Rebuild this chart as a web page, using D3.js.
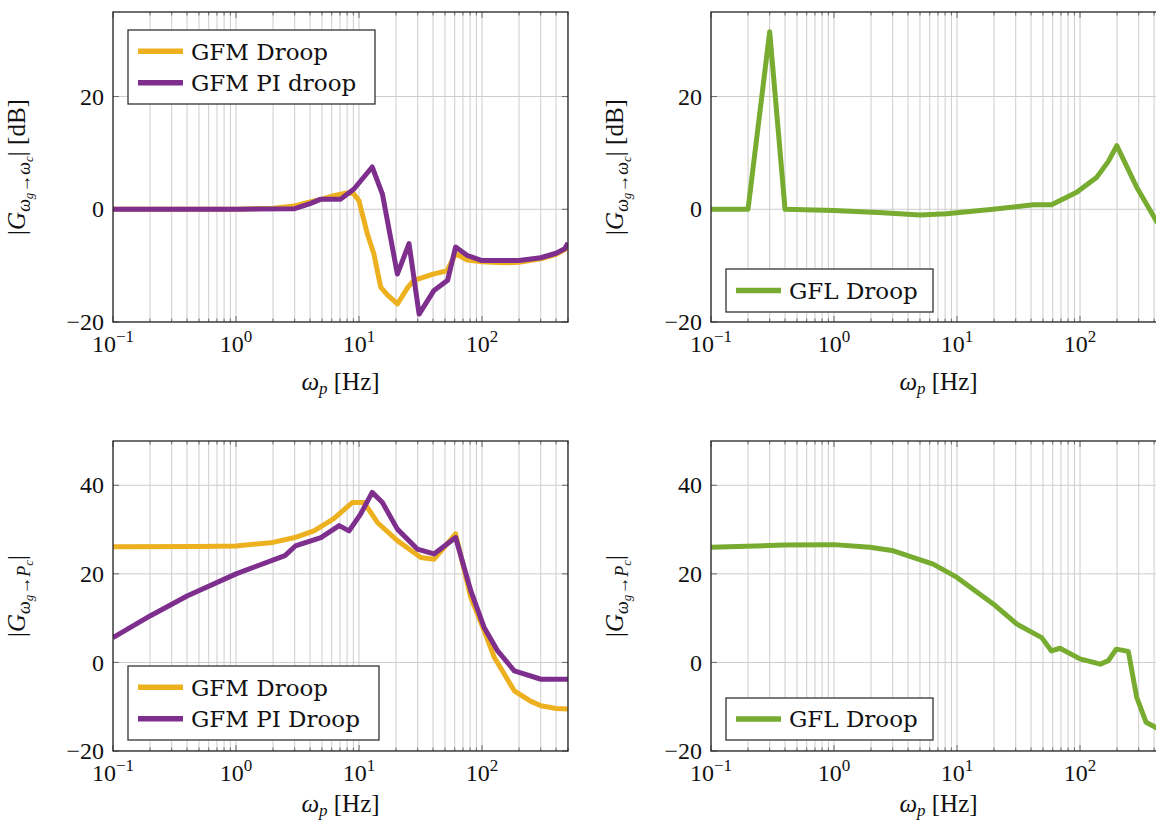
<!DOCTYPE html>
<html>
<head>
<meta charset="utf-8">
<script src="https://cdn.jsdelivr.net/npm/d3@7/dist/d3.min.js"></script>
<style>
  html, body { margin: 0; padding: 0; background: #fff; }
  svg { display: block; }
</style>
</head>
<body>
<svg id="chart" width="1156" height="823"></svg>
<script>
// ---------------- DATA ----------------
const xTickExponents = [-1, 0, 1, 2];
const yTicksTop = [-20, 0, 20];
const yTicksBottom = [-20, 0, 20, 40];

// Top-left: |G wg->wc| [dB]
const tlDroopFreq = [0.1, 1, 2, 3, 4, 5, 6.2, 8, 9, 10, 11.7, 13.2, 15, 17, 20.5, 25, 28, 40, 52, 61, 76, 100, 150, 200, 300, 400, 500];
const tlDroopMag  = [0, 0, 0.2, 0.6, 1.3, 1.8, 2.4, 2.9, 2.8, 1.5, -4.4, -7.9, -13.8, -15.2, -16.8, -13.8, -12.6, -11.5, -10.9, -7.9, -9.0, -9.3, -9.5, -9.4, -8.8, -8.0, -6.8];
const tlPIFreq = [0.1, 1, 3, 4, 4.9, 7.1, 9.1, 12.8, 15.5, 20.5, 25.5, 30.8, 40.7, 52.5, 61, 76, 100, 200, 300, 400, 470, 500];
const tlPIMag  = [0, 0, 0.1, 1.0, 1.8, 1.8, 3.6, 7.5, 2.7, -11.5, -6.1, -18.6, -14.4, -12.6, -6.7, -8.2, -9.1, -9.1, -8.6, -7.8, -7.0, -6.0];

// Top-right: GFL droop
const trGFLFreq = [0.1, 0.2, 0.3, 0.4, 1, 2.5, 5, 8.2, 19.7, 41.7, 58.6, 94, 137, 170, 199, 289, 415, 500];
const trGFLMag  = [0, 0, 31.5, 0, -0.2, -0.6, -1.0, -0.8, 0, 0.8, 0.8, 3.0, 5.7, 8.5, 11.3, 3.9, -2.0, -4.5];

// Bottom-left: |G wg->Pc|
const blDroopFreq = [0.1, 0.5, 1, 2, 3, 4.3, 6.2, 8.8, 11, 14.1, 20.5, 31.8, 40.7, 61, 81, 104, 126, 183, 250, 302, 400, 500];
const blDroopMag  = [26.1, 26.2, 26.3, 27.1, 28.2, 29.7, 32.4, 36.1, 36.1, 31.6, 27.5, 23.7, 23.3, 29.0, 14.7, 7.2, 1.1, -6.4, -8.8, -9.8, -10.4, -10.5];
const blPIFreq = [0.1, 0.2, 0.4, 1, 2.5, 3.04, 4.9, 6.9, 8.3, 10.3, 12.8, 15.5, 20.5, 29.8, 40.7, 61, 81, 104, 134, 183, 302, 500];
const blPIMag  = [5.6, 10.5, 15, 20, 24.1, 26.3, 28.2, 30.9, 29.7, 33.5, 38.4, 36.1, 30.1, 25.6, 24.5, 28.2, 16.2, 7.9, 2.6, -1.9, -3.8, -3.8];

// Bottom-right: GFL droop
const brGFLFreq = [0.1, 0.39, 1, 1.96, 3.04, 6.4, 10, 19.7, 30.5, 48.8, 58.6, 68.7, 100, 146, 170, 197, 247, 289, 344, 415, 500];
const brGFLMag  = [26.0, 26.5, 26.6, 26.0, 25.2, 22.2, 19.2, 13.2, 8.7, 5.6, 2.6, 3.2, 0.8, -0.4, 0.4, 3.0, 2.5, -7.9, -13.5, -14.7, -15.5];

const colDroop = "#EDB120", colPI = "#7E2F8E", colGFL = "#77AC30";

// ---------------- DRAW ----------------
const svg = d3.select("#chart");
const numFont = "Liberation Serif, serif";
const txtFont = "DejaVu Serif, serif";

const panels = [
  { id: "tl", x: 113, y: 12, w: 455, h: 310, yDom: [-20, 35], yTicks: yTicksTop, ylab: "wc", xlabOff: 68,
    series: [{f: tlDroopFreq, m: tlDroopMag, c: colDroop, name: "GFM Droop"}, {f: tlPIFreq, m: tlPIMag, c: colPI, name: "GFM PI droop"}],
    legend: {x: 128, y: 30, w: 247, h: 74} },
  { id: "tr", x: 711, y: 12, w: 455, h: 310, yDom: [-20, 35], yTicks: yTicksTop, ylab: "wc", xlabOff: 68,
    series: [{f: trGFLFreq, m: trGFLMag, c: colGFL, name: "GFL Droop"}],
    legend: {x: 726, y: 269, w: 207, h: 43} },
  { id: "bl", x: 113, y: 441, w: 455, h: 310, yDom: [-20, 50], yTicks: yTicksBottom, ylab: "Pc", xlabOff: 61,
    series: [{f: blDroopFreq, m: blDroopMag, c: colDroop, name: "GFM Droop"}, {f: blPIFreq, m: blPIMag, c: colPI, name: "GFM PI Droop"}],
    legend: {x: 128, y: 666, w: 251, h: 74} },
  { id: "br", x: 711, y: 441, w: 455, h: 310, yDom: [-20, 50], yTicks: yTicksBottom, ylab: "Pc", xlabOff: 61,
    series: [{f: brGFLFreq, m: brGFLMag, c: colGFL, name: "GFL Droop"}],
    legend: {x: 726, y: 698, w: 207, h: 42} }
];

const defs = svg.append("defs");

panels.forEach(p => {
  const x = d3.scaleLog().domain([0.1, 500]).range([p.x, p.x + p.w]);
  const y = d3.scaleLinear().domain(p.yDom).range([p.y + p.h, p.y]);
  const g = svg.append("g");

  defs.append("clipPath").attr("id", "clip-" + p.id)
    .append("rect").attr("x", p.x).attr("y", p.y).attr("width", p.w).attr("height", p.h);

  const xMajor = xTickExponents.map(e => Math.pow(10, e));
  const xMinor = [];
  for (let e = -1; e <= 2; e++) for (let k = 2; k <= 9; k++) { const v = k * Math.pow(10, e); if (v <= 500) xMinor.push(v); }

  // grid
  const grid = g.append("g").attr("clip-path", "url(#clip-" + p.id + ")");
  grid.selectAll("line.vx").data(xMajor.concat(xMinor)).join("line")
    .attr("x1", d => x(d)).attr("x2", d => x(d)).attr("y1", p.y).attr("y2", p.y + p.h)
    .attr("stroke", "#cdcdcd").attr("stroke-width", 1);
  grid.selectAll("line.hy").data(p.yTicks).join("line")
    .attr("x1", p.x).attr("x2", p.x + p.w).attr("y1", d => y(d)).attr("y2", d => y(d))
    .attr("stroke", "#cdcdcd").attr("stroke-width", 1);

  // ticks (inside, both sides)
  const tk = g.append("g").attr("stroke", "#6a6a6a").attr("stroke-width", 1);
  xMajor.forEach(v => {
    tk.append("line").attr("x1", x(v)).attr("x2", x(v)).attr("y1", p.y + p.h).attr("y2", p.y + p.h - 6);
    tk.append("line").attr("x1", x(v)).attr("x2", x(v)).attr("y1", p.y).attr("y2", p.y + 6);
  });
  xMinor.forEach(v => {
    tk.append("line").attr("x1", x(v)).attr("x2", x(v)).attr("y1", p.y + p.h).attr("y2", p.y + p.h - 3.5);
    tk.append("line").attr("x1", x(v)).attr("x2", x(v)).attr("y1", p.y).attr("y2", p.y + 3.5);
  });
  p.yTicks.forEach(v => {
    tk.append("line").attr("x1", p.x).attr("x2", p.x + 6).attr("y1", y(v)).attr("y2", y(v));
    tk.append("line").attr("x1", p.x + p.w).attr("x2", p.x + p.w - 6).attr("y1", y(v)).attr("y2", y(v));
  });

  // data lines
  const line = d3.line().x(d => x(d[0])).y(d => y(d[1]));
  const lg = g.append("g").attr("clip-path", "url(#clip-" + p.id + ")");
  p.series.forEach(s => {
    lg.append("path").datum(s.f.map((f, i) => [f, s.m[i]]))
      .attr("d", line).attr("fill", "none").attr("stroke", s.c)
      .attr("stroke-width", 5).attr("stroke-linejoin", "round").attr("stroke-linecap", "butt");
  });

  // frame
  g.append("rect").attr("x", p.x).attr("y", p.y).attr("width", p.w).attr("height", p.h)
    .attr("fill", "none").attr("stroke", "#222").attr("stroke-width", 1.3);

  // y tick labels
  g.selectAll("text.yt").data(p.yTicks).join("text")
    .attr("x", p.x - 9).attr("y", d => y(d)).attr("dy", "0.34em")
    .attr("text-anchor", "end").attr("font-family", numFont).attr("font-size", 24).attr("fill", "#111")
    .text(d => d < 0 ? "\u2212" + Math.abs(d) : d);

  // x tick labels
  xTickExponents.forEach(e => {
    const t = g.append("text").attr("x", x(Math.pow(10, e))).attr("y", p.y + p.h + 30)
      .attr("text-anchor", "middle").attr("font-family", numFont).attr("font-size", 24).attr("fill", "#111");
    t.append("tspan").text("10");
    t.append("tspan").attr("font-size", 17).attr("dy", -10).text(e < 0 ? "\u2212" + Math.abs(e) : e);
  });

  // x axis label
  const xl = g.append("text").attr("x", p.x + 227.5).attr("y", p.y + p.h + p.xlabOff)
    .attr("text-anchor", "middle").attr("font-family", numFont).attr("font-size", 25).attr("fill", "#111");
  xl.append("tspan").attr("font-style", "italic").text("\u03C9");
  xl.append("tspan").attr("font-style", "italic").attr("font-size", 17).attr("dy", 4).text("p");
  xl.append("tspan").attr("dy", -4).text(" [Hz]");

  // y axis label
  const lx = p.x - 88, ly = p.y + p.h / 2;
  const yl = g.append("text").attr("transform", `translate(${lx},${ly}) rotate(-90)`)
    .attr("text-anchor", "middle").attr("font-family", numFont).attr("font-size", 25).attr("fill", "#111");
  yl.append("tspan").text("|");
  yl.append("tspan").attr("font-style", "italic").text("G");
  yl.append("tspan").attr("font-style", "italic").attr("font-size", 18).attr("dy", 5).text("\u03C9");
  yl.append("tspan").attr("font-style", "italic").attr("font-size", 13).attr("dy", 3).text("g");
  yl.append("tspan").attr("font-size", 18).attr("dy", -3).text("\u2192");
  if (p.ylab === "wc") {
    yl.append("tspan").attr("font-style", "italic").attr("font-size", 18).text("\u03C9");
    yl.append("tspan").attr("font-style", "italic").attr("font-size", 13).attr("dy", 3).text("c");
    yl.append("tspan").attr("dy", -8).text("| [dB]");
  } else {
    yl.append("tspan").attr("font-style", "italic").attr("font-size", 18).text("P");
    yl.append("tspan").attr("font-style", "italic").attr("font-size", 13).attr("dy", 3).text("c");
    yl.append("tspan").attr("dy", -8).text("|");
  }

  // legend
  const L = p.legend;
  const leg = g.append("g");
  leg.append("rect").attr("x", L.x).attr("y", L.y).attr("width", L.w).attr("height", L.h)
    .attr("fill", "#fff").attr("stroke", "#333").attr("stroke-width", 1.3);
  const rowH = 31.5;
  const firstY = L.y + (L.h - rowH * (p.series.length - 1)) / 2;
  p.series.forEach((s, i) => {
    const cy = firstY + i * rowH;
    leg.append("line").attr("x1", L.x + 10).attr("x2", L.x + 55).attr("y1", cy).attr("y2", cy)
      .attr("stroke", s.c).attr("stroke-width", 5.5);
    leg.append("text").attr("x", L.x + 63).attr("y", cy).attr("dy", "0.36em")
      .attr("font-family", txtFont).attr("font-size", 23).attr("fill", "#111").text(s.name);
  });
});
</script>
</body>
</html>
